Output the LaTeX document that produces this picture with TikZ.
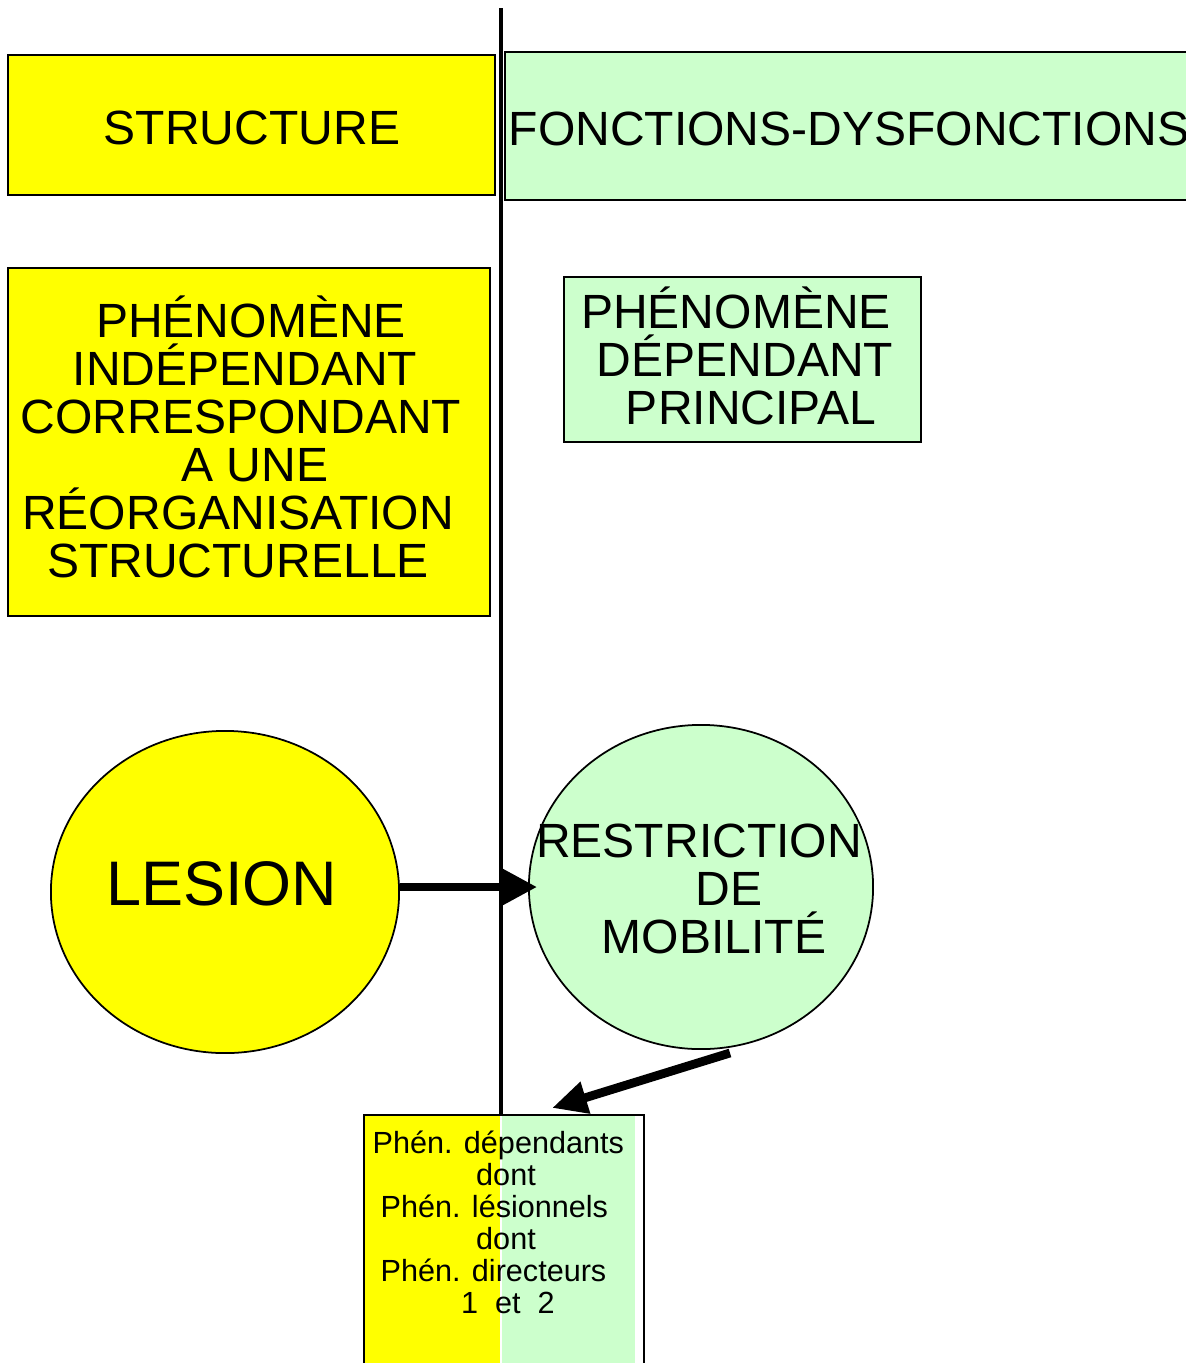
\documentclass[tikz,border=0pt]{standalone}
\usepackage{fontspec}
\setmainfont{Liberation Sans}
\usetikzlibrary{arrows.meta,shapes.geometric,calc}
\definecolor{jaune}{HTML}{FFFF00}
\definecolor{vert}{HTML}{CCFFCC}

\begin{document}
\begin{tikzpicture}[x=0.01cm,y=-0.01cm,
  cadre/.style={draw=black, line width=0.6pt, inner sep=0pt},
  rond/.style={ellipse, draw=black, line width=0.5pt, inner sep=0pt},
  grand/.style={inner sep=0pt, anchor=base, font=\fontsize{13.66}{13.66}\selectfont},
  petit/.style={inner sep=0pt, font=\fontsize{8.7}{8.7}\selectfont},
  fleche/.style={line width=2.3pt, -{Triangle[length=0.35cm,width=0.35cm]}}]
\useasboundingbox (0,0) rectangle (1186,1363);
\fill[white] (0,0) rectangle (1186,1363);

% en-tetes des deux colonnes
\node[cadre, fill=jaune, minimum width=4.87cm, minimum height=1.40cm] (structure) at (251.5,125) {};
\node[grand] (tstructure) at (252,144) {STRUCTURE};
\node[cadre, fill=vert, minimum width=6.84cm, minimum height=1.48cm] (fonctions) at (847,126) {};
\node[grand, anchor=base west] (tfonctions) at (508,145) {FONCTIONS-DYSFONCTIONS};

% phenomene independant
\node[cadre, fill=jaune, minimum width=4.82cm, minimum height=3.48cm] (indep) at (249,442) {};
\node[grand] (i1) at (251,337) {PHÉNOMÈNE};
\node[grand] (i2) at (245,385) {INDÉPENDANT};
\node[grand] (i3) at (241,433) {CORRESPONDANT};
\node[grand] (i4) at (255,481) {A UNE};
\node[grand] (i5) at (238,529) {RÉORGANISATION};
\node[grand] (i6) at (238,577) {STRUCTURELLE};

% phenomene dependant principal
\node[cadre, fill=vert, minimum width=3.57cm, minimum height=1.65cm] (dep) at (742.5,359.5) {};
\node[grand] (d1) at (736,328) {PHÉNOMÈNE};
\node[grand] (d2) at (745,376) {DÉPENDANT};
\node[grand] (d3) at (751,424) {PRINCIPAL};

% lesion et restriction
\node[rond, fill=jaune, minimum width=3.48cm, minimum height=3.22cm] (lesion) at (225,892) {};
\node[inner sep=0pt, anchor=base, font=\fontsize{17.9}{17.9}\selectfont] (tlesion) at (221.5,905) {LESION};
\node[rond, fill=vert, minimum width=3.44cm, minimum height=3.24cm] (restriction) at (701,887) {};
\node[grand] (r1) at (699,857) {RESTRICTION};
\node[grand] (r2) at (729,905) {DE};
\node[grand] (r3) at (714,953) {MOBILITÉ};

% boite du bas, a cheval sur les deux colonnes
\fill[jaune] (364,1115) rectangle (499.5,1370);
\fill[vert] (501.5,1115) rectangle (635,1370);
\node[cadre, anchor=north west, minimum width=2.80cm, minimum height=2.80cm] (bas) at (363,1114) {};
\node[petit, anchor=base west] (b1) at (372,1153) {Phén. dépendants};
\node[petit, anchor=base] (b2) at (506,1185) {dont};
\node[petit, anchor=base west] (b3) at (380,1217) {Phén. lésionnels};
\node[petit, anchor=base] (b4) at (506,1249) {dont};
\node[petit, anchor=base west] (b5) at (380,1281) {Phén. directeurs};
\node[petit, anchor=base] (b6) at (508,1313) {1\ \ et\ \ 2};

% axe de separation
\coordinate (axe) at (501,8);
\draw[line width=1.3pt] (axe) -- (axe |- bas.north);

% fleches
\draw[fleche] (lesion.east |- restriction.west) -- ([xshift=0.09cm]restriction.west);
\coordinate (depart) at ($(restriction.south)+(29,3)$);
\coordinate (arrivee) at ($(bas.north west)+(189,-6)$);
\draw[line width=2.5pt, -{Triangle[length=0.35cm,width=0.31cm]}] (depart) -- (arrivee);
\end{tikzpicture}
\end{document}
